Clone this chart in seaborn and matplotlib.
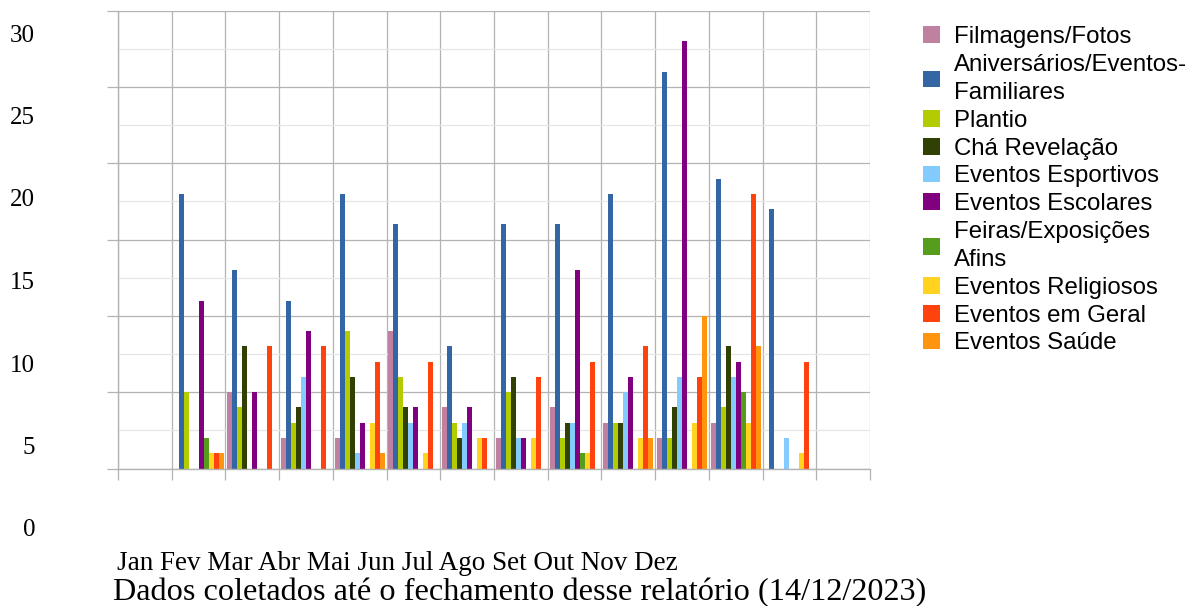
import numpy as np
import pandas as pd
import matplotlib
matplotlib.use("Agg")
import matplotlib.pyplot as plt
import seaborn as sns
from matplotlib.patches import Patch

# Dados (eventos por mês)
meses = ["Jan", "Fev", "Mar", "Abr", "Mai", "Jun", "Jul", "Ago", "Set", "Out", "Nov", "Dez"]

filmagens     = [0, 5, 2, 2, 9, 4, 2, 4, 3, 2, 3, 0]
aniversarios  = [18, 13, 11, 18, 16, 8, 16, 16, 18, 26, 19, 17]
plantio       = [5, 4, 3, 9, 6, 3, 5, 2, 3, 2, 4, 0]
cha_revelacao = [0, 8, 4, 6, 4, 2, 6, 3, 3, 4, 8, 0]
esportivos    = [0, 0, 6, 1, 3, 3, 2, 3, 5, 6, 6, 2]
escolares     = [11, 5, 9, 3, 4, 4, 2, 13, 6, 28, 7, 0]
feiras        = [2, 0, 0, 0, 0, 0, 0, 1, 0, 0, 5, 0]
religiosos    = [1, 0, 0, 3, 1, 2, 2, 1, 2, 3, 3, 1]
geral         = [1, 8, 8, 7, 7, 2, 6, 7, 8, 6, 18, 7]
saude         = [1, 0, 0, 1, 0, 0, 0, 0, 2, 10, 8, 0]

series = ["Filmagens/Fotos", "Aniversários/Eventos-\nFamiliares", "Plantio", "Chá Revelação",
          "Eventos Esportivos", "Eventos Escolares", "Feiras/Exposições\nAfins",
          "Eventos Religiosos", "Eventos em Geral", "Eventos Saúde"]
valores = [filmagens, aniversarios, plantio, cha_revelacao, esportivos,
           escolares, feiras, religiosos, geral, saude]
cores = ["#c0809f", "#3465a4", "#b2cc00", "#314004", "#83caff",
         "#800080", "#579d1c", "#ffd320", "#ff420e", "#ff950e"]

linhas = []
for nome, vals in zip(series, valores):
    for m, v in zip(meses, vals):
        linhas.append({"mes": m, "categoria": nome, "valor": v})
df = pd.DataFrame(linhas)

sns.set_theme(style="white")
plt.rcParams["font.family"] = ["Liberation Serif", "DejaVu Serif"]
plt.rcParams["text.color"] = "black"
plt.rcParams["ytick.color"] = "black"

fig = plt.figure(figsize=(12, 6.06), dpi=100)
ax = fig.add_axes([118 / 1200, 1 - 468.5 / 606, (870 - 118) / 1200, (468.5 - 10.7) / 606])

# categorias vazias nas pontas, como no original
ordem = [" "] + meses + ["  "]
sns.barplot(data=df, x="mes", y="valor", hue="categoria", order=ordem,
            hue_order=series, palette=cores, saturation=1, width=0.93, gap=0,
            linewidth=0, legend=False, ax=ax)

ax.set_xlim(-0.5, len(ordem) - 0.5)
ax.set_ylim(0, 30)
ax.set_xticks(np.arange(-0.5, len(ordem)))
ax.set_xticklabels([])
ax.set_yticks(np.arange(0, 31, 5))
ax.set_yticks(np.arange(0, 31, 2.5), minor=True)
ax.set_yticklabels([])
ax.set_xlabel("")
ax.set_ylabel("")
ax.grid(True, which="major", color="#b3b3b3", linewidth=0.9)
ax.grid(True, which="minor", axis="y", color="#e6e6e6", linewidth=0.9)
ax.set_axisbelow(True)
for s in ["top", "right"]:
    ax.spines[s].set_visible(False)
for s in ["left", "bottom"]:
    ax.spines[s].set_color("#b3b3b3")
    ax.spines[s].set_linewidth(1.0)
ax.tick_params(axis="both", which="major", direction="out", length=8,
               color="#b3b3b3", width=0.9, left=True, bottom=True)
ax.tick_params(axis="y", which="minor", length=0)

# rótulos do eixo y (deslocados como no original)
ax_y = fig.add_axes([35 / 1200, 1 - 528 / 606, 0.0001, (528 - 33) / 606])
ax_y.set_ylim(0, 30)
ax_y.set_yticks(np.arange(0, 31, 5))
ax_y.set_yticklabels([str(v) for v in range(0, 31, 5)], fontsize=18, color="black")
ax_y.tick_params(axis="y", length=0, pad=0, labelcolor="black")
ax_y.set_xticks([])
for s in ax_y.spines.values():
    s.set_visible(False)
ax_y.patch.set_visible(False)

fig.text(117 / 1200, 1 - 564 / 606, " ".join(meses), fontsize=19.5, va="center", ha="left")
fig.text(113 / 1200, 1 - 593 / 606, "Dados coletados até o fechamento desse relatório (14/12/2023)",
         fontsize=23.2, va="center", ha="left")

handles = [Patch(facecolor=c, edgecolor="none") for c in cores]
leg = fig.legend(handles, series, loc="upper left", bbox_to_anchor=(923 / 1200, 1 - 26 / 606),
                 frameon=False, prop={"family": ["Liberation Sans", "DejaVu Sans"], "size": 17.3},
                 handlelength=0.7, handleheight=0.7, handletextpad=0.6, labelspacing=0.24,
                 borderpad=0, borderaxespad=0, labelcolor="black")
for t in leg.get_texts():
    t.set_linespacing(1.37)

fig.savefig("out.png", dpi=100)
